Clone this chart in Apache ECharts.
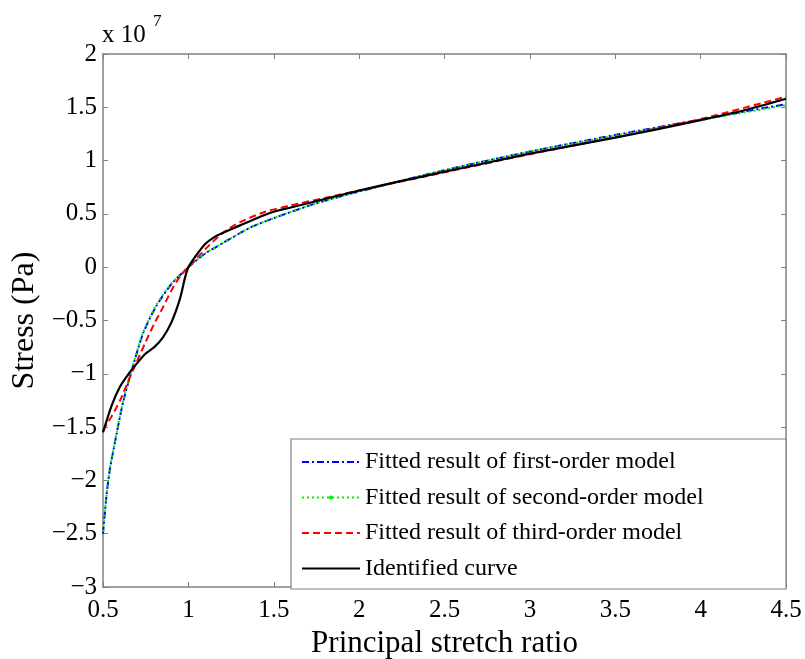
<!DOCTYPE html>
<html>
<head>
<meta charset="utf-8">
<script src="https://cdn.jsdelivr.net/npm/echarts@6/dist/echarts.min.js"></script>
<style>
  html, body { margin: 0; padding: 0; background: #fff; }
  #chart { width: 805px; height: 659px; }
</style>
</head>
<body>
<div id="chart"></div>
<script>
// stress values are in units of 1e7 Pa
var xTicks = [0.5, 1, 1.5, 2, 2.5, 3, 3.5, 4, 4.5];
var yTicks = [-3, -2.5, -2, -1.5, -1, -0.5, 0, 0.5, 1, 1.5, 2];

var seriesNames = [
    'Fitted result of first-order model',
    'Fitted result of second-order model',
    'Fitted result of third-order model',
    'Identified curve'
];

// first-order fit
var firstX = [0.5, 0.52, 0.54, 0.58, 0.62, 0.67, 0.735, 0.81, 0.9, 1.0, 1.1, 1.2, 1.36, 1.5, 1.75, 2.0, 2.5, 3.0, 3.5, 4.0, 4.5];
var firstY = [-2.5, -2.15, -1.9, -1.56, -1.25, -0.96, -0.62, -0.37, -0.16, 0.0, 0.13, 0.225, 0.37, 0.46, 0.6, 0.71, 0.91, 1.085, 1.24, 1.385, 1.53];

// second-order fit
var secondX = [0.5, 0.52, 0.54, 0.58, 0.62, 0.67, 0.735, 0.81, 0.9, 1.0, 1.1, 1.2, 1.36, 1.5, 1.75, 2.0, 2.5, 3.0, 3.5, 4.0, 4.5];
var secondY = [-2.48, -2.14, -1.89, -1.55, -1.24, -0.95, -0.61, -0.36, -0.155, 0.0, 0.13, 0.225, 0.37, 0.46, 0.6, 0.71, 0.91, 1.085, 1.235, 1.38, 1.52];

// third-order fit
var thirdX = [0.5, 0.55, 0.6, 0.65, 0.7, 0.75, 0.8, 0.85, 0.9, 0.95, 1.0, 1.1, 1.2, 1.3, 1.45, 1.6, 1.8, 2.0, 2.5, 3.0, 3.5, 4.0, 4.5];
var thirdY = [-1.53, -1.4, -1.25, -1.06, -0.88, -0.7, -0.53, -0.38, -0.22, -0.09, 0.0, 0.17, 0.32, 0.42, 0.52, 0.58, 0.65, 0.72, 0.89, 1.06, 1.22, 1.39, 1.6];

// identified curve
var identX = [0.5, 0.55, 0.6, 0.65, 0.7, 0.75, 0.8, 0.85, 0.9, 0.95, 0.98, 1.0, 1.05, 1.1, 1.15, 1.2, 1.3, 1.4, 1.5, 1.6, 1.8, 2.0, 2.25, 2.5, 2.75, 3.0, 3.25, 3.5, 3.75, 4.0, 4.25, 4.5];
var identY = [-1.55, -1.3, -1.12, -1.0, -0.9, -0.81, -0.75, -0.66, -0.52, -0.3, -0.1, 0.0, 0.12, 0.22, 0.28, 0.32, 0.39, 0.46, 0.52, 0.56, 0.64, 0.72, 0.81, 0.895, 0.98, 1.065, 1.14, 1.215, 1.295, 1.38, 1.47, 1.58];

function pairs(xs, ys) {
    var out = [];
    for (var i = 0; i < xs.length; i++) {
        out.push([xs[i], ys[i]]);
    }
    return out;
}

var FONT = 'Liberation Serif';
var AXIS_GRAY = '#808080';

function fmtNum(v) {
    return String(v).replace('-', '\u2212');
}

// box style shared by the four sides of the plot
function boxAxis(extra) {
    var ax = {
        type: 'value',
        axisLine: {show: true, onZero: false, lineStyle: {color: AXIS_GRAY, width: 1.5}},
        axisTick: {show: true, inside: true, length: 5, lineStyle: {color: AXIS_GRAY}},
        axisLabel: {show: false},
        splitLine: {show: false}
    };
    for (var k in extra) {
        ax[k] = extra[k];
    }
    return ax;
}

// legend entries: only the second-order model shows a dot marker
var legendData = [
    {name: seriesNames[0], itemStyle: {opacity: 0}},
    {name: seriesNames[1]},
    {name: seriesNames[2], itemStyle: {opacity: 0}},
    {name: seriesNames[3], itemStyle: {opacity: 0}}
];

var chartDom = document.getElementById('chart');
var myChart = echarts.init(chartDom);

var option = {
    animation: false,
    backgroundColor: '#fff',
    grid: {left: 103, top: 54, right: 19, bottom: 72, outerBoundsMode: 'none', containLabel: false},
    xAxis: [
        boxAxis({
            min: xTicks[0], max: xTicks[xTicks.length - 1], interval: 0.5,
            name: 'Principal stretch ratio',
            nameLocation: 'middle',
            nameGap: 30,
            nameTextStyle: {fontFamily: FONT, fontSize: 31, color: '#000'},
            axisLabel: {show: true, fontFamily: FONT, fontSize: 25, color: '#000', margin: 11, formatter: fmtNum}
        }),
        boxAxis({position: 'top', min: xTicks[0], max: xTicks[xTicks.length - 1], interval: 0.5})
    ],
    yAxis: [
        boxAxis({
            min: yTicks[0], max: yTicks[yTicks.length - 1], interval: 0.5,
            name: 'Stress (Pa)',
            nameLocation: 'middle',
            nameGap: 56,
            nameTextStyle: {fontFamily: FONT, fontSize: 32, color: '#000'},
            axisLabel: {show: true, fontFamily: FONT, fontSize: 25, color: '#000', margin: 6, formatter: fmtNum}
        }),
        boxAxis({position: 'right', min: yTicks[0], max: yTicks[yTicks.length - 1], interval: 0.5})
    ],
    legend: {
        z: 20,
        orient: 'vertical',
        left: 291,
        top: 439,
        padding: [11, 10, 8, 10],
        itemWidth: 58,
        itemHeight: 5,
        itemGap: 11.5,
        textStyle: {fontFamily: FONT, fontSize: 24, color: '#000', lineHeight: 24},
        data: legendData
    },
    graphic: [{
        type: 'rect',
        z: 10,
        shape: {x: 291, y: 439, width: 495, height: 150},
        style: {fill: '#fff', stroke: AXIS_GRAY, lineWidth: 1.2}
    }, {
        type: 'text',
        left: 102, top: 23,
        style: {text: 'x 10', fontFamily: FONT, fontSize: 25, fill: '#000'}
    }, {
        type: 'text',
        left: 153, top: 13,
        style: {text: '7', fontFamily: FONT, fontSize: 17, fill: '#000'}
    }],
    series: [{
        name: seriesNames[0],
        type: 'line',
        smooth: 0.25,
        showSymbol: false,
        symbol: 'none',
        data: pairs(firstX, firstY),
        itemStyle: {color: '#0000ff'},
        lineStyle: {color: '#0000ff', width: 2, type: [7, 3, 2, 3]}
    }, {
        name: seriesNames[1],
        type: 'line',
        smooth: 0.25,
        showSymbol: false,
        symbol: 'circle',
        symbolSize: 5,
        data: pairs(secondX, secondY),
        itemStyle: {color: '#00ee00'},
        lineStyle: {color: '#00ee00', width: 2, type: [2, 3]}
    }, {
        name: seriesNames[2],
        type: 'line',
        smooth: 0.25,
        showSymbol: false,
        symbol: 'none',
        data: pairs(thirdX, thirdY),
        itemStyle: {color: '#ff0000'},
        lineStyle: {color: '#ff0000', width: 2, type: [7, 4]}
    }, {
        name: seriesNames[3],
        type: 'line',
        smooth: 0.25,
        showSymbol: false,
        symbol: 'none',
        data: pairs(identX, identY),
        itemStyle: {color: '#000'},
        lineStyle: {color: '#000', width: 2.2}
    }]
};

option && myChart.setOption(option);
</script>
</body>
</html>
